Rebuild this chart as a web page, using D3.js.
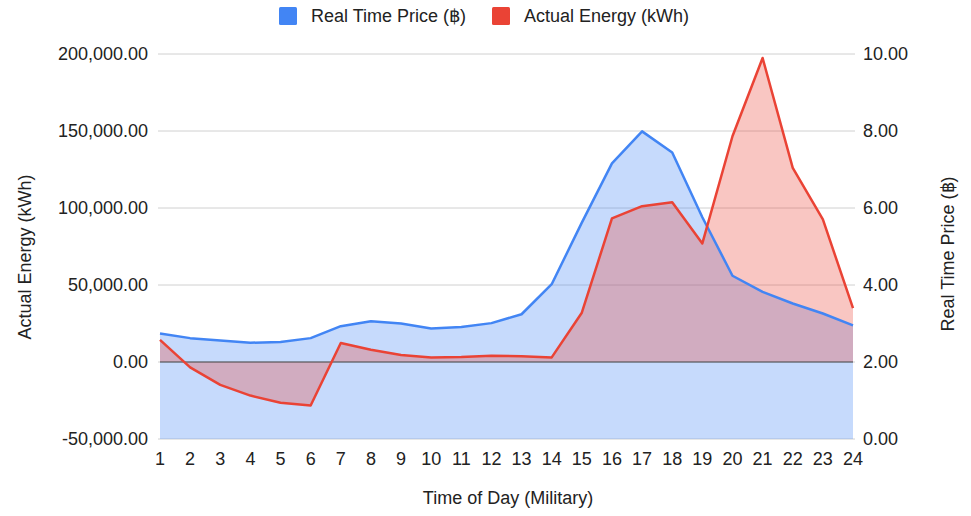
<!DOCTYPE html>
<html>
<head>
<meta charset="utf-8">
<script src="https://cdn.jsdelivr.net/npm/d3@7"></script>
<style>
  html, body { margin: 0; padding: 0; background: #fff; }
  text { font-family: "Liberation Sans", Arial, sans-serif; fill: #222; }
</style>
</head>
<body>
<svg id="chart" width="971" height="516"></svg>
<script>
const hours = [1,2,3,4,5,6,7,8,9,10,11,12,13,14,15,16,17,18,19,20,21,22,23,24];
const price = [2.74,2.62,2.56,2.50,2.52,2.62,2.93,3.06,3.00,2.87,2.91,3.01,3.24,4.02,5.62,7.16,7.99,7.44,5.76,4.24,3.82,3.52,3.26,2.95];
const energy = [14400,-3500,-14900,-21800,-26500,-28300,12300,8000,4500,3000,3200,4000,3700,3000,32000,93300,101200,103800,77000,146600,197400,126100,92600,35000];
const leftTicks = [-50000,0,50000,100000,150000,200000];
const rightTicks = [0,2,4,6,8,10];
const seriesNames = ["Real Time Price (\u0E3F)", "Actual Energy (kWh)"];
const seriesColors = ["#4285f4", "#ea4335"];

const svg = d3.select("#chart");
const x = d3.scaleLinear().domain([1,24]).range([160,853]);
const yL = d3.scaleLinear().domain([-50000,200000]).range([439,54]);
const yR = d3.scaleLinear().domain([0,10]).range([439,54]);

const FS = "18px";

// gridlines
svg.append("g").selectAll("line").data(leftTicks).join("line")
  .attr("x1", 158).attr("x2", 855)
  .attr("y1", d => yL(d)).attr("y2", d => yL(d))
  .attr("stroke", "#d0d0d0").attr("stroke-width", 1);

// areas
const priceData = hours.map((h,i) => ({h, v: price[i]}));
const energyData = hours.map((h,i) => ({h, v: energy[i]}));

svg.append("path").datum(priceData)
  .attr("d", d3.area().x(d => x(d.h)).y0(yR(0)).y1(d => yR(d.v)))
  .attr("fill", seriesColors[0]).attr("fill-opacity", 0.3);
svg.append("path").datum(energyData)
  .attr("d", d3.area().x(d => x(d.h)).y0(yL(0)).y1(d => yL(d.v)))
  .attr("fill", seriesColors[1]).attr("fill-opacity", 0.3);

// baseline
svg.append("line").attr("x1", 160).attr("x2", 853)
  .attr("y1", yL(0)).attr("y2", yL(0))
  .attr("stroke", "#555").attr("stroke-opacity", 0.55).attr("stroke-width", 2);

// lines
svg.append("path").datum(priceData)
  .attr("d", d3.line().x(d => x(d.h)).y(d => yR(d.v)))
  .attr("fill", "none").attr("stroke", seriesColors[0]).attr("stroke-width", 2.5)
  .attr("stroke-linejoin", "round");
svg.append("path").datum(energyData)
  .attr("d", d3.line().x(d => x(d.h)).y(d => yL(d.v)))
  .attr("fill", "none").attr("stroke", seriesColors[1]).attr("stroke-width", 2.5)
  .attr("stroke-linejoin", "round");

// left axis labels
const fmtL = d3.format(",.2f");
svg.append("g").selectAll("text").data(leftTicks).join("text")
  .attr("x", 148).attr("y", d => yL(d)).attr("dy", "0.35em")
  .attr("text-anchor", "end").style("font-size", FS)
  .text(d => fmtL(d).replace("\u2212", "-"));

// right axis labels
const fmtR = d3.format(".2f");
svg.append("g").selectAll("text").data(rightTicks).join("text")
  .attr("x", 863).attr("y", d => yR(d)).attr("dy", "0.35em")
  .attr("text-anchor", "start").style("font-size", FS)
  .text(d => fmtR(d));

// x axis labels
svg.append("g").selectAll("text").data(hours).join("text")
  .attr("x", d => x(d)).attr("y", 459).attr("dy", "0.35em")
  .attr("text-anchor", "middle").style("font-size", FS)
  .text(d => d);

// axis titles
svg.append("text").attr("x", 508).attr("y", 498).attr("dy", "0.35em")
  .attr("text-anchor", "middle").style("font-size", FS)
  .text("Time of Day (Military)");
svg.append("text").attr("transform", "translate(25,257) rotate(-90)")
  .attr("dy", "0.35em").attr("text-anchor", "middle").style("font-size", FS)
  .text("Actual Energy (kWh)");
svg.append("text").attr("transform", "translate(948,254) rotate(-90)")
  .attr("dy", "0.35em").attr("text-anchor", "middle").style("font-size", FS)
  .text(seriesNames[0]);

// legend
const legendX = [279, 492];
const lg = svg.append("g").selectAll("g").data(seriesNames).join("g")
  .attr("transform", (d,i) => `translate(${legendX[i]},7)`);
lg.append("rect").attr("width", 18).attr("height", 18).attr("rx", 1.5)
  .attr("fill", (d,i) => seriesColors[i]);
lg.append("text").attr("x", 32).attr("y", 9).attr("dy", "0.35em")
  .style("font-size", FS).text(d => d);
</script>
</body>
</html>
